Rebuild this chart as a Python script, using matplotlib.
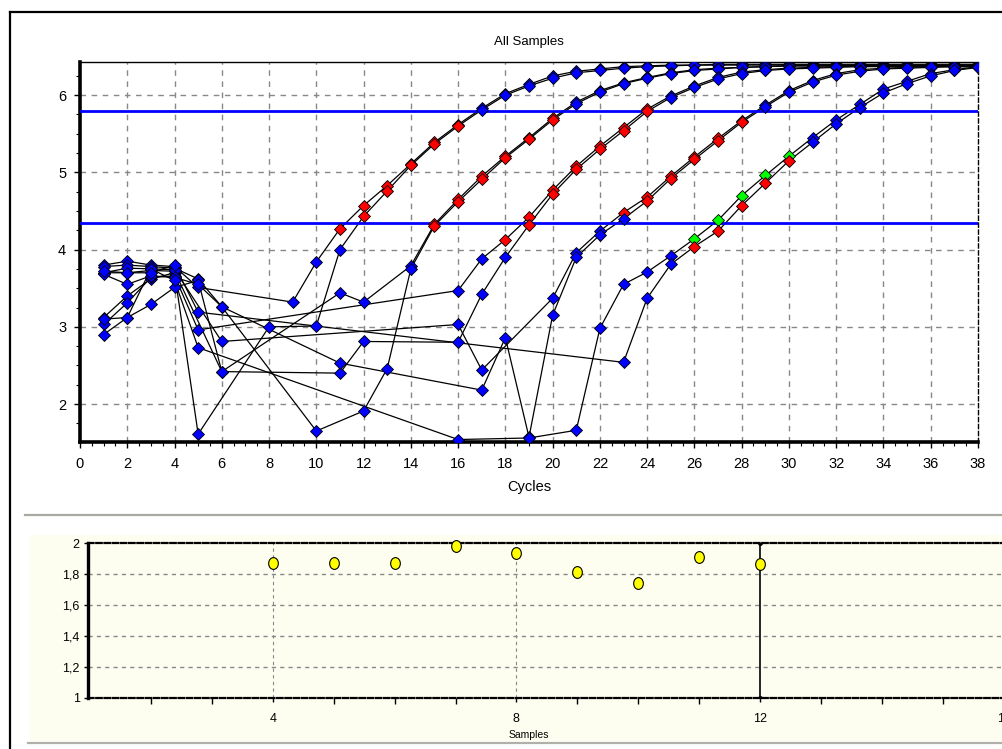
import matplotlib
matplotlib.use('Agg')
import matplotlib.pyplot as plt
from matplotlib.ticker import MultipleLocator, FixedLocator
from matplotlib.lines import Line2D
from matplotlib.patches import Rectangle
from matplotlib.markers import MarkerStyle
from matplotlib.transforms import Affine2D

plt.rcParams['font.family'] = ['Liberation Sans', 'DejaVu Sans']

# ---------------- data: amplification curves (cycle, log fluorescence) ----------------
a1_cycles = [1, 2, 3, 4, 5] + list(range(9, 39))
a1_values = [3.80, 3.85, 3.80, 3.78, 3.51,
             3.32, 3.84, 4.27, 4.57, 4.83, 5.11, 5.39, 5.62, 5.83, 6.02,
             6.14, 6.25, 6.31, 6.34, 6.37, 6.38, 6.39, 6.39, 6.40, 6.40,
             6.40, 6.40, 6.40, 6.40, 6.40, 6.40, 6.40, 6.40, 6.40, 6.40]
a1_red = [11, 12, 13, 14, 15, 16]

a2_cycles = [1, 2, 3, 4, 5, 8] + list(range(10, 39))
a2_values = [3.12, 3.40, 3.62, 3.70, 1.61, 3.00,
             3.01, 4.00, 4.43, 4.76, 5.09, 5.37, 5.60, 5.81, 6.00, 6.12,
             6.22, 6.29, 6.32, 6.35, 6.37, 6.38, 6.39, 6.39, 6.39, 6.39,
             6.39, 6.39, 6.39, 6.39, 6.39, 6.39, 6.39, 6.39, 6.39]
a2_red = [12, 13, 14, 15, 16]

b1_cycles = [1, 2, 3, 4, 6, 11, 12] + list(range(14, 39))
b1_values = [3.70, 3.70, 3.73, 3.72, 2.42, 3.44, 3.32,
             3.79, 4.33, 4.65, 4.95, 5.21, 5.45, 5.70, 5.91, 6.06, 6.16,
             6.23, 6.29, 6.33, 6.35, 6.36, 6.37, 6.38,
             6.38, 6.38, 6.38, 6.38, 6.38, 6.38, 6.38, 6.38]
b1_red = [15, 16, 17, 18, 19, 20]

b2_cycles = [1, 2, 3, 4, 5, 6, 10] + list(range(12, 39))
b2_values = [3.78, 3.80, 3.78, 3.76, 3.62, 3.26, 1.65,
             1.91, 2.46, 3.75, 4.31, 4.62, 4.91, 5.19, 5.43, 5.68, 5.89,
             6.04, 6.15, 6.22, 6.28, 6.32, 6.34, 6.36, 6.37, 6.38, 6.38,
             6.38, 6.38, 6.38, 6.38, 6.38, 6.38, 6.38]
b2_red = [15, 16, 17, 18, 19, 20]

c1_cycles = [1, 2, 3, 4, 5] + list(range(16, 39))
c1_values = [3.03, 3.31, 3.64, 3.66, 2.96,
             3.47, 3.88, 4.13, 4.42, 4.77, 5.08, 5.34, 5.58, 5.82, 5.99,
             6.12, 6.23, 6.30, 6.33, 6.35, 6.36, 6.37, 6.38, 6.38, 6.38,
             6.38, 6.38, 6.38]
c1_red = [18, 19, 20, 21, 22, 23, 24]

c2_cycles = [1, 2, 3, 4, 5, 6, 11, 12] + list(range(16, 39))
c2_values = [2.90, 3.12, 3.29, 3.51, 3.60, 2.42, 2.40, 2.81,
             2.80, 3.42, 3.90, 4.32, 4.72, 5.04, 5.30, 5.54, 5.79, 5.97,
             6.10, 6.21, 6.28, 6.32, 6.34, 6.35, 6.36, 6.37, 6.37, 6.37,
             6.37, 6.37, 6.37]
c2_red = [19, 20, 21, 22, 23, 24]

d1_cycles = [1, 2, 3, 4, 6, 16, 17] + list(range(20, 39))
d1_values = [3.70, 3.76, 3.75, 3.74, 2.81, 3.03, 2.44,
             3.37, 3.96, 4.24, 4.48, 4.68, 4.95, 5.20, 5.44, 5.67, 5.87,
             6.06, 6.19, 6.28, 6.33, 6.35, 6.36, 6.37, 6.38, 6.38]
d1_red = [23, 24, 25, 26, 27, 28]

d2_cycles = [1, 2, 3, 4, 5, 6, 11] + list(range(17, 39))
d2_values = [3.68, 3.55, 3.66, 3.64, 3.55, 3.26, 2.53,
             2.18, 2.86, 1.57, 3.15, 3.90, 4.19, 4.40, 4.63, 4.92, 5.17,
             5.41, 5.65, 5.85, 6.04, 6.17, 6.26, 6.31, 6.34, 6.35, 6.36,
             6.37, 6.37]
d2_red = [24, 25, 26, 27, 28]

e1_cycles = [1, 2, 3, 4, 5, 16, 19] + list(range(21, 39))
e1_values = [3.10, 3.12, 3.75, 3.60, 2.73, 1.54, 1.56,
             1.66, 2.98, 3.55, 3.71, 3.92, 4.14, 4.38, 4.70, 4.96, 5.21,
             5.45, 5.68, 5.88, 6.08, 6.18, 6.28, 6.33, 6.37]
e1_green = [26, 27, 28, 29, 30]

e2_cycles = [1, 2, 3, 4, 5] + list(range(23, 39))
e2_values = [3.72, 3.70, 3.70, 3.80, 3.19,
             2.54, 3.37, 3.81, 4.04, 4.24, 4.57, 4.86, 5.15, 5.39, 5.63,
             5.84, 6.03, 6.15, 6.25, 6.32, 6.36]
e2_red = [26, 27, 28, 29, 30]

thresholds = [5.797, 4.346]

# ---------------- data: efficiency per sample ----------------
samples = [4, 5, 6, 7, 8, 9, 10, 11, 12]
efficiency = [1.874, 1.874, 1.874, 1.98, 1.936, 1.81, 1.744, 1.91, 1.866]
cursor_sample = 12

curves = [
    (a1_cycles, a1_values, a1_red, []),
    (a2_cycles, a2_values, a2_red, []),
    (b1_cycles, b1_values, b1_red, []),
    (b2_cycles, b2_values, b2_red, []),
    (c1_cycles, c1_values, c1_red, []),
    (c2_cycles, c2_values, c2_red, []),
    (d1_cycles, d1_values, d1_red, []),
    (d2_cycles, d2_values, d2_red, []),
    (e1_cycles, e1_values, [], e1_green),
    (e2_cycles, e2_values, e2_red, []),
]

# ---------------- figure ----------------
W, H = 1003, 749
fig = plt.figure(figsize=(W / 100, H / 100), dpi=100)
fig.patch.set_facecolor('white')


def fx(px):
    return px / W


def fy(py):
    return 1 - py / H


# outer frame and separators (behind the axes)
fig.add_artist(Rectangle((fx(30), fy(741)), 1 - fx(30), fy(535) - fy(741),
                         facecolor='#fdfdf0', edgecolor='none', zorder=-10))
fig.add_artist(Line2D([fx(10), fx(10)], [fy(12), 0], color='black', lw=1.6, zorder=-5))
fig.add_artist(Line2D([fx(10), 1], [fy(12), fy(12)], color='black', lw=1.6, zorder=-5))
fig.add_artist(Line2D([fx(25), 1], [fy(515), fy(515)], color='#a8a8a0', lw=1.6, zorder=-5))
fig.add_artist(Line2D([fx(28), 1], [fy(743), fy(743)], color='#b0b0a8', lw=1.6, zorder=-5))

# ---------------- main amplification plot ----------------
ax = fig.add_axes([fx(80), fy(442), fx(978) - fx(80), fy(62) - fy(442)])
ax.set_xlim(0, 38)
ax.set_ylim(1.508, 6.43)
ax.set_facecolor('white')

for xv in range(2, 38, 2):
    ax.axvline(xv, color='#888888', lw=1.0, dashes=(4, 4), zorder=1)
for yv in range(2, 7):
    ax.axhline(yv, color='#888888', lw=1.0, dashes=(4, 4), zorder=1)

for cyc, val, red, green in curves:
    ax.plot(cyc, val, color='black', lw=0.9, zorder=2, clip_on=True)

for t in thresholds:
    ax.axhline(t, color='#0000ff', lw=2.0, zorder=3)

for cyc, val, red, green in curves:
    for c, v in zip(cyc, val):
        if c in red:
            col = '#ff0000'
        elif c in green:
            col = '#00ff00'
        else:
            col = '#0000ff'
        ax.plot([c], [v], marker='D', ms=6.2, mfc=col, mec='black', mew=0.6,
                linestyle='none', zorder=4, clip_on=True)

for side in ['left', 'bottom']:
    ax.spines[side].set_linewidth(2.6)
    ax.spines[side].set_color('black')
ax.spines['top'].set_linewidth(1.0)
ax.spines['right'].set_linewidth(1.0)
ax.spines['right'].set_linestyle((0, (3, 2)))

ax.xaxis.set_major_locator(MultipleLocator(2))
ax.xaxis.set_minor_locator(MultipleLocator(0.5))
ax.yaxis.set_major_locator(FixedLocator([2, 3, 4, 5, 6]))
ax.yaxis.set_minor_locator(MultipleLocator(0.25))
ax.tick_params(axis='both', which='major', direction='out', length=4, width=1,
               labelsize=10.5, colors='black')
ax.tick_params(axis='both', which='minor', direction='out', length=3, width=0.8)
ax.tick_params(axis='x', which='major', pad=7)
ax.tick_params(axis='y', which='major', pad=6)

fig.text(fx(529), fy(42), 'All Samples', ha='center', va='center', fontsize=9.5)
fig.text(fx(529), fy(487), 'Cycles', ha='center', va='center', fontsize=10.5)

# ---------------- lower efficiency plot ----------------
unit = 60.9
x_lo = 0.965
x_hi = 17
ax2 = fig.add_axes([fx(88), fy(698), (x_hi - x_lo) * unit / W, fy(543) - fy(698)])
ax2.set_xlim(x_lo, x_hi)
ax2.set_ylim(1, 2)
ax2.set_facecolor('#fdfdf0')

for yv in [1.2, 1.4, 1.6, 1.8]:
    ax2.axhline(yv, color='#888888', lw=1.0, dashes=(3, 3), zorder=1)
for xv in [4, 8]:
    ax2.axvline(xv, color='#888888', lw=0.8, dashes=(3, 3), zorder=1)
ax2.plot([cursor_sample, cursor_sample], [1, 2], color='black', lw=1.2, zorder=2,
         marker='o', ms=2.5)

oval = MarkerStyle('o', transform=Affine2D().scale(0.82, 1.0))
ax2.plot(samples, efficiency, marker=oval, ms=8.5, mfc='#ffff00', mec='black', mew=0.8,
         linestyle='none', zorder=4, clip_on=False)

ax2.spines['left'].set_linewidth(2.4)
for side in ['top', 'bottom']:
    ax2.spines[side].set_linewidth(1.6)
    ax2.spines[side].set_linestyle((0, (2.5, 1.2)))
ax2.spines['right'].set_visible(False)

ax2.xaxis.set_major_locator(FixedLocator([4, 8, 12, 16]))
ax2.xaxis.set_minor_locator(FixedLocator([2, 3, 5, 6, 7, 9, 10, 11, 13, 14, 15]))
ax2.yaxis.set_major_locator(FixedLocator([1, 1.2, 1.4, 1.6, 1.8, 2]))
ax2.set_yticklabels(['1', '1,2', '1,4', '1,6', '1,8', '2'])
ax2.set_xticklabels(['4', '8', '12', '16'])
ax2.tick_params(axis='both', which='major', direction='out', length=3, width=1,
                labelsize=9, colors='black')
ax2.tick_params(axis='x', which='minor', direction='out', length=4, width=1)
ax2.tick_params(axis='x', which='major', pad=8)
ax2.tick_params(axis='y', which='major', pad=3)

fig.text(fx(529), fy(735), 'Samples', ha='center', va='center', fontsize=7.5)

fig.savefig('out.png', dpi=100, facecolor='white')
